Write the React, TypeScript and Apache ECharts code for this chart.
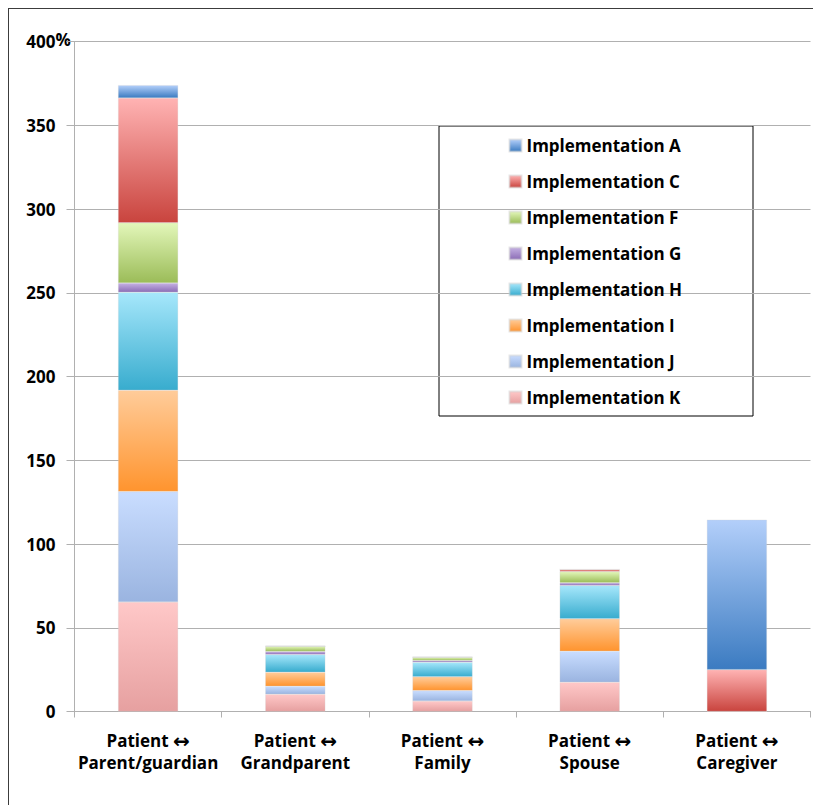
import React, { useEffect, useRef } from "react";
import * as echarts from "echarts";

const categories = [
  "Patient ↔\nParent/guardian",
  "Patient ↔\nGrandparent",
  "Patient ↔\nFamily",
  "Patient ↔\nSpouse",
  "Patient ↔\nCaregiver",
];

// values per category, stacked bottom (K) to top (A)
const implK = [65.3, 10.3, 6.2, 17.5, 0];
const implJ = [66, 4.8, 6.3, 18.5, 0];
const implI = [60.5, 8.4, 8.2, 19.3, 0];
const implH = [58.5, 10.5, 8.7, 19.9, 0];
const implG = [5.5, 1.8, 1, 1.6, 0];
const implF = [36, 3.2, 2, 6.8, 0];
const implC = [74.5, 0, 0, 1.2, 25];
const implA = [7.6, 0, 0, 0, 89.5];

const legendOrder = [
  "Implementation A",
  "Implementation C",
  "Implementation F",
  "Implementation G",
  "Implementation H",
  "Implementation I",
  "Implementation J",
  "Implementation K",
];

const yTicks = { min: 0, max: 400, interval: 50 };
const topUnit = "%";

const FONT = "'Open Sans', Lato, 'DejaVu Sans', sans-serif";

const grad = (top: string, bottom: string) =>
  new echarts.graphic.LinearGradient(0, 0, 0, 1, [
    { offset: 0, color: top },
    { offset: 1, color: bottom },
  ]);

export default function App() {
  const ref = useRef<HTMLDivElement>(null);
  useEffect(() => {
    if (!ref.current) return;
    const chart = echarts.init(ref.current, undefined, { renderer: "svg" });
    const seriesDefs: [string, number[], string, string][] = [
      ["Implementation K", implK, "#ffc8c8", "#e6a0a0"],
      ["Implementation J", implJ, "#c9ddff", "#9ab4e0"],
      ["Implementation I", implI, "#ffcc9a", "#ff942e"],
      ["Implementation H", implH, "#a6e7fb", "#38acce"],
      ["Implementation G", implG, "#c4b0e2", "#8c6db6"],
      ["Implementation F", implF, "#e3f7ba", "#9bbc58"],
      ["Implementation C", implC, "#ffb3b3", "#c9443e"],
      ["Implementation A", implA, "#b3cffa", "#3b7bc1"],
    ];
    const axisGray = "#b0b0b0";
    const labelFont = {
      fontFamily: FONT,
      fontWeight: "bold",
      fontSize: 17,
      color: "#000",
    };
    chart.setOption({
      animation: false,
      textStyle: { fontFamily: FONT },
      grid: { left: 65.5, top: 32.5, width: 736, height: 670 },
      legend: {
        data: legendOrder,
        orient: "vertical",
        left: 499.5,
        top: 126.5,
        padding: 0,
        itemWidth: 12,
        itemHeight: 12,
        itemGap: 16,
        icon: "rect",
        textStyle: { ...labelFont, lineHeight: 20 },
      },
      graphic: [
        {
          type: "rect",
          left: 429.5,
          top: 116.5,
          shape: { width: 314, height: 290 },
          style: { fill: "#fff", stroke: "#000", lineWidth: 1 },
          z: -1,
        },
        {
          type: "text",
          left: 46.5,
          top: 22,
          style: {
            text: topUnit,
            font: "bold 17px " + FONT,
            fill: "#000",
          },
        },
      ],
      xAxis: {
        type: "category",
        data: categories,
        axisLine: { show: true, lineStyle: { color: axisGray, width: 1 } },
        axisTick: { show: true, length: 6, lineStyle: { color: axisGray } },
        axisLabel: {
          ...labelFont,
          margin: 18,
          lineHeight: 22,
          interval: 0,
          formatter: (v: string) => v.replace("↔", "{a|↔}"),
          rich: {
            a: {
              fontFamily: "'DejaVu Sans', sans-serif",
              fontWeight: "bold",
              fontSize: 20,
              lineHeight: 22,
              color: "#000",
            },
          },
        },
      },
      yAxis: {
        type: "value",
        min: yTicks.min,
        max: yTicks.max,
        interval: yTicks.interval,
        axisLine: { show: true, lineStyle: { color: axisGray, width: 1 } },
        axisTick: { show: true, length: 8, lineStyle: { color: axisGray } },
        splitLine: { show: true, lineStyle: { color: axisGray, width: 1 } },
        axisLabel: {
          ...labelFont,
          margin: 19,
        },
      },
      series: seriesDefs.map(([name, data, top, bottom]) => ({
        name,
        type: "bar",
        stack: "total",
        data,
        barWidth: 60,
        itemStyle: {
          color: grad(top, bottom),
          borderColor: "rgba(210,210,210,0.5)",
          borderWidth: 0.5,
        },
      })),
    });
    return () => chart.dispose();
  }, []);
  return (
    <div
      style={{
        position: "absolute",
        left: 8,
        top: 8,
        width: 805,
        height: 797,
        boxSizing: "border-box",
        borderLeft: "1.5px solid #3c3c3c",
        borderTop: "1.5px solid #3c3c3c",
        overflow: "hidden",
      }}
    >
      <div ref={ref} style={{ width: 803, height: 795 }} />
    </div>
  );
}
